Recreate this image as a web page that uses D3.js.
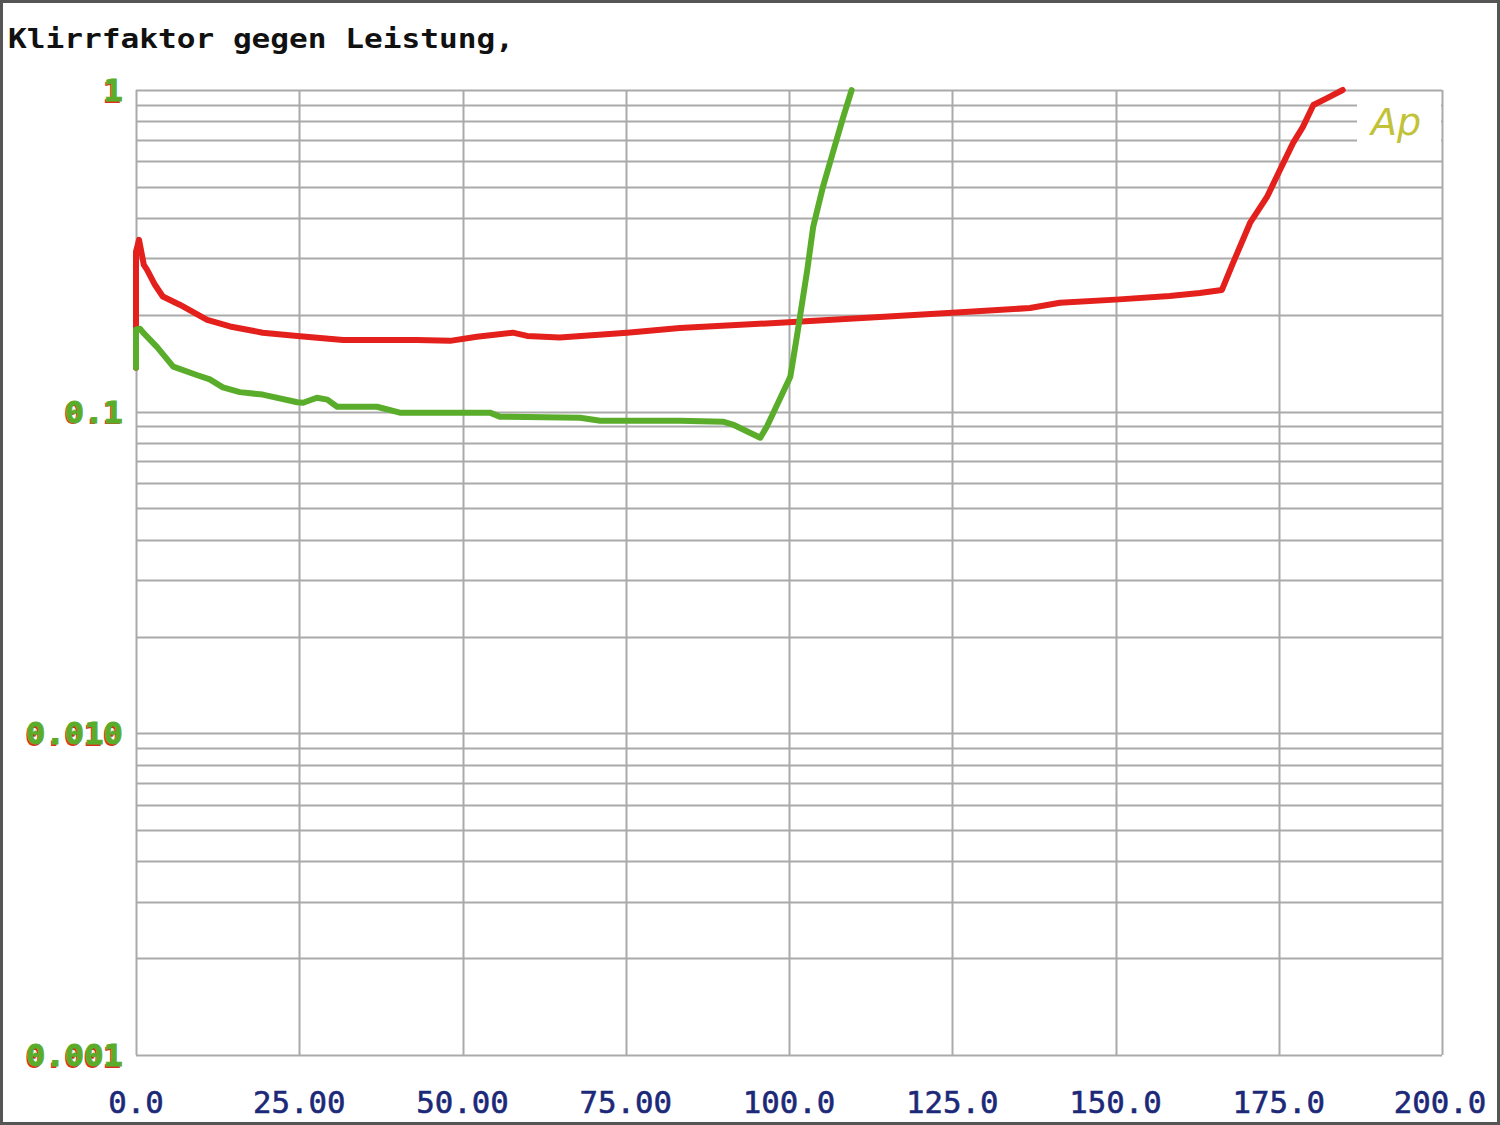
<!DOCTYPE html>
<html><head><meta charset="utf-8">
<script src="https://cdn.jsdelivr.net/npm/d3@7"></script>
<style>html,body{margin:0;padding:0;background:#fff}svg{display:block}</style>
</head><body>
<script>
// ---- data ----
const xTickValues = [0, 25, 50, 75, 100, 125, 150, 175, 200];
const xTickLabels = ["0.0", "25.00", "50.00", "75.00", "100.0", "125.0", "150.0", "175.0", "200.0"];
const yTickValues = [1, 0.1, 0.01, 0.001];
const yTickLabels = ["1", "0.1", "0.010", "0.001"];

const redW = [0, 0, 0.46, 1.2, 1.7, 2.9, 4.1, 6.7, 10.9, 14.4, 19.4, 24.7, 31.7, 43.0, 48.1, 52.2, 57.7, 59.9, 64.9, 75.2, 83.3, 98.6, 113.9, 125.0, 136.9, 141.5, 150.0, 158.3, 162.9, 166.3, 168.0, 170.6, 173.2, 175.2, 177.2, 178.7, 180.3, 182.4, 184.8];
const redThd = [0.137, 0.314, 0.342, 0.286, 0.276, 0.248, 0.228, 0.215, 0.193, 0.184, 0.176, 0.172, 0.167, 0.167, 0.166, 0.171, 0.176, 0.172, 0.170, 0.176, 0.182, 0.189, 0.197, 0.203, 0.210, 0.218, 0.223, 0.229, 0.234, 0.239, 0.290, 0.386, 0.465, 0.565, 0.685, 0.768, 0.898, 0.944, 1.0];

const greenW = [0, 0, 0.6, 1.1, 3.2, 5.7, 9.3, 11.3, 13.3, 15.9, 19.4, 24.7, 25.6, 27.7, 29.3, 30.8, 36.9, 40.4, 54.2, 55.7, 68.0, 71.1, 83.3, 89.9, 91.4, 95.6, 96.6, 100.2, 101.2, 102.8, 103.7, 105.2, 106.7, 108.3, 109.6];
const greenThd = [0.137, 0.180, 0.181, 0.176, 0.159, 0.138, 0.130, 0.126, 0.119, 0.115, 0.113, 0.107, 0.1066, 0.1105, 0.109, 0.1036, 0.1036, 0.0993, 0.0993, 0.0965, 0.0958, 0.0937, 0.0937, 0.0931, 0.0912, 0.0830, 0.0898, 0.1284, 0.171, 0.276, 0.375, 0.500, 0.637, 0.824, 1.0];

// ---- layout ----
const W = 1500, H = 1125;
const L = 136, R = 1442, T = 90, B = 1055;
const svg = d3.select("body").append("svg").attr("width", W).attr("height", H);

svg.append("rect").attr("x", 1.5).attr("y", 1.5).attr("width", W - 3).attr("height", H - 3)
  .attr("fill", "#fff").attr("stroke", "#555").attr("stroke-width", 3);

const x = d3.scaleLinear().domain([0, 200]).range([L, R]);
const y = d3.scaleLog().domain([0.001, 1]).range([B, T]);

const gridColor = "#aaaaaa";
const grid = svg.append("g");
grid.selectAll("line.h").data(y.ticks()).join("line")
  .attr("x1", L).attr("x2", R)
  .attr("y1", d => Math.round(y(d)) + 0.5).attr("y2", d => Math.round(y(d)) + 0.5)
  .attr("stroke", gridColor).attr("stroke-width", 2);
grid.selectAll("line.v").data(xTickValues).join("line")
  .attr("y1", T).attr("y2", B)
  .attr("x1", d => Math.round(x(d)) + 0.5).attr("x2", d => Math.round(x(d)) + 0.5)
  .attr("stroke", gridColor).attr("stroke-width", 2);

// legend mask and label
svg.append("rect").attr("x", 1357).attr("y", 97).attr("width", R - 1358).attr("height", 52).attr("fill", "#fff");
svg.append("text").attr("x", 1371).attr("y", 135).text("Ap")
  .attr("font-family", "DejaVu Sans, sans-serif").attr("font-style", "italic").attr("font-weight", 300)
  .attr("font-size", 38).attr("fill", "#c2c238");

// title
svg.append("text").attr("x", 8).attr("y", 48).text("Klirrfaktor gegen Leistung,")
  .attr("font-family", "DejaVu Sans Mono, monospace").attr("font-weight", "bold").attr("font-size", 27)
  .attr("textLength", 506).attr("lengthAdjust", "spacingAndGlyphs").attr("fill", "#111");

// lines
const line = d3.line().x(d => x(d[0])).y(d => y(d[1]));
const red = redW.map((w, i) => [w, redThd[i]]);
const green = greenW.map((w, i) => [w, greenThd[i]]);
svg.append("path").datum(red).attr("d", line).attr("fill", "none")
  .attr("stroke", "#e4201c").attr("stroke-width", 6).attr("stroke-linejoin", "round").attr("stroke-linecap", "round");
svg.append("path").datum(green).attr("d", line).attr("fill", "none")
  .attr("stroke", "#5aad2a").attr("stroke-width", 6).attr("stroke-linejoin", "round").attr("stroke-linecap", "round");

// y tick labels (green with thin red shadow)
const yl = svg.append("g").attr("font-family", "DejaVu Sans Mono, monospace").attr("font-weight", "bold")
  .attr("font-size", 31).attr("text-anchor", "end");
yTickValues.forEach((v, i) => {
  const t = yTickLabels[i];
  const len = t.length * 19.4;
  const yy = y(v) + 11;
  yl.append("text").attr("x", 121.5).attr("y", yy + 1.5).text(t).attr("fill", "#d8321e")
    .attr("textLength", len).attr("lengthAdjust", "spacingAndGlyphs");
  yl.append("text").attr("x", 123).attr("y", yy).text(t).attr("fill", "#5aad2a")
    .attr("stroke", "#5aad2a").attr("stroke-width", 1)
    .attr("textLength", len).attr("lengthAdjust", "spacingAndGlyphs");
});

// x tick labels
const xl = svg.append("g").attr("font-family", "DejaVu Sans Mono, monospace")
  .attr("font-size", 31).attr("text-anchor", "middle").attr("fill", "#1c2878")
  .attr("stroke", "#1c2878").attr("stroke-width", 0.6);
xTickValues.forEach((v, i) => {
  const t = xTickLabels[i];
  const cx = i === xTickValues.length - 1 ? x(v) - 2 : x(v);
  xl.append("text").attr("x", cx).attr("y", 1113).text(t)
    .attr("textLength", t.length * 18.5).attr("lengthAdjust", "spacingAndGlyphs");
});
</script>
</body></html>
